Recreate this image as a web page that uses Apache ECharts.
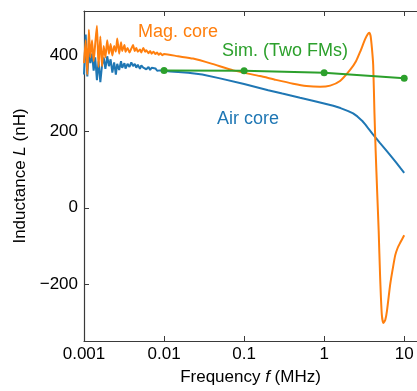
<!DOCTYPE html>
<html>
<head>
<meta charset="utf-8">
<script src="https://cdn.jsdelivr.net/npm/echarts@6/dist/echarts.min.js"></script>
<style>
  html, body { margin: 0; padding: 0; background: #fff; }
  #chart { width: 417px; height: 391px; }
</style>
</head>
<body>
<div id="chart"></div>
<script>
// frequency in MHz, inductance in nH
const airFreq = [
  0.001, 0.00105, 0.0011, 0.00115, 0.0012, 0.00126, 0.00132, 0.00138, 0.00145, 0.00152,
  0.0016, 0.00168, 0.00176, 0.00185, 0.00195, 0.00205, 0.00215, 0.00226, 0.00238, 0.0025,
  0.0026, 0.00275, 0.0029, 0.003, 0.0032, 0.0033, 0.0035, 0.0037, 0.0039, 0.0041,
  0.0043, 0.0045, 0.0047, 0.005, 0.0052, 0.0055, 0.0058, 0.006, 0.0064, 0.0067,
  0.007, 0.0074, 0.0078, 0.0082, 0.0086, 0.009, 0.0095, 0.01,
  0.012, 0.015, 0.02, 0.03, 0.05, 0.1, 0.2, 0.3, 0.5, 0.7, 1, 1.3, 1.6, 2, 2.3, 2.6,
  3, 3.3, 3.6, 4, 5, 6, 7, 8, 9, 10
];
const airL = [
  350, 455, 345, 420, 380, 405, 360, 395, 335, 385,
  330, 375, 395, 365, 398, 372, 390, 355, 382, 350,
  378, 362, 385, 368, 380, 366, 378, 370, 382, 372,
  378, 368, 376, 365, 374, 368, 372, 364, 370, 362,
  368, 363, 366, 360, 364, 361, 363, 360,
  358, 357, 355, 350, 340, 325, 309, 300, 289, 282, 274, 268, 262, 254, 248, 240,
  228, 218, 207, 195, 170, 150, 133, 118, 104, 92
];

const magFreq = [
  0.001, 0.00105, 0.0011, 0.00115, 0.0012, 0.00126, 0.00132, 0.00138, 0.00145, 0.00152,
  0.0016, 0.00168, 0.00176, 0.00185, 0.00195, 0.00205, 0.00215, 0.00226, 0.00238, 0.0025,
  0.0026, 0.00275, 0.0029, 0.003, 0.0032, 0.0033, 0.0035, 0.0037, 0.0039, 0.0041,
  0.0043, 0.0045, 0.0047, 0.005, 0.0052, 0.0055, 0.0058, 0.006, 0.0064, 0.0067,
  0.007, 0.0074, 0.0078, 0.0082, 0.0086, 0.009, 0.0095, 0.01,
  0.015, 0.023, 0.04, 0.073, 0.158, 0.25, 0.41, 0.6, 0.89, 1.19, 1.58, 2.11, 2.5,
  2.82, 3.25, 3.5, 3.65, 3.8, 3.95, 4.1, 4.25, 4.4, 4.6, 4.8, 5.0, 5.25, 5.5,
  5.8, 6.1, 6.68, 7.2, 7.72, 8.3, 8.91, 10
];
const magL = [
  380, 440, 350, 468, 395, 440, 385, 430, 478, 370,
  450, 372, 425, 395, 440, 405, 430, 400, 425, 410,
  445, 405, 435, 412, 428, 410, 420, 408, 418, 428,
  412, 420, 410, 416, 408, 420, 410, 414, 406, 412,
  405, 410, 404, 408, 402, 406, 401, 404,
  398, 392, 378, 361, 346, 336, 326, 320, 318, 321, 333, 362, 385,
  410, 443, 456, 460, 452, 420, 375, 250, 150, 40, -60, -180, -280, -303,
  -295, -270, -202, -160, -125, -105, -92, -72
];

const simFreq = [0.01, 0.1, 1, 10];
const simL = [361, 360, 355, 340];

const xTicks = [0.001, 0.01, 0.1, 1, 10];
const xTickLabels = ['0.001', '0.01', '0.1', '1', '10'];
const yTicks = [-200, 0, 200, 400];

const toPoints = (freq, vals) => freq.map((f, i) => [Math.log10(f), vals[i]]);
const xTickPos = xTicks.map(Math.log10);

const chart = echarts.init(document.getElementById('chart'));

const axisColor = '#3a3a3a';
const font = '"Liberation Sans", Arial, Helvetica, sans-serif';

const option = {
  animation: false,
  grid: { left: 84, right: 0, top: 11, bottom: 40 },
  xAxis: [
    {
      type: 'value',
      position: 'bottom',
      min: -3,
      max: 1.16,
      splitLine: { show: false },
      axisLine: { onZero: false, lineStyle: { color: axisColor, width: 1.2 } },
      axisTick: { inside: true, length: 5, customValues: xTickPos, lineStyle: { color: axisColor } },
      axisLabel: {
        customValues: xTickPos,
        color: '#000',
        fontSize: 17,
        fontFamily: font,
        margin: 5,
        formatter: (v) => xTickLabels[Math.round(v) + 3]
      },
      name: 'Frequency {i|f} (MHz)',
      nameLocation: 'middle',
      nameGap: 28,
      nameTextStyle: {
        color: '#000',
        fontSize: 17,
        fontFamily: font,
        rich: { i: { fontStyle: 'italic', fontSize: 17, fontFamily: font, color: '#000' } }
      }
    },
    {
      type: 'value',
      position: 'top',
      min: -3,
      max: 1.16,
      splitLine: { show: false },
      axisLine: { onZero: false, lineStyle: { color: axisColor, width: 1.2 } },
      axisTick: { inside: true, length: 5, customValues: xTickPos, lineStyle: { color: axisColor } },
      axisLabel: { show: false }
    }
  ],
  yAxis: {
    type: 'value',
    min: -350,
    max: 517,
    splitLine: { show: false },
    axisLine: { show: true, onZero: false, lineStyle: { color: axisColor, width: 1.2 } },
    axisTick: { show: true, inside: true, length: 5, customValues: yTicks, lineStyle: { color: axisColor } },
    axisLabel: {
      customValues: yTicks,
      color: '#000',
      fontSize: 17,
      fontFamily: font,
      margin: 6,
      formatter: (v) => (v < 0 ? '\u2212' + Math.abs(v) : String(v))
    },
    name: 'Inductance {i|L} (nH)',
    nameLocation: 'middle',
    nameGap: 47,
    nameTextStyle: {
      color: '#000',
      fontSize: 17,
      fontFamily: font,
      rich: { i: { fontStyle: 'italic', fontSize: 17, fontFamily: font, color: '#000' } }
    }
  },
  series: [
    {
      name: 'Air core',
      type: 'line',
      data: toPoints(airFreq, airL),
      showSymbol: false,
      lineStyle: { color: '#1f77b4', width: 2 },
      itemStyle: { color: '#1f77b4' }
    },
    {
      name: 'Mag. core',
      type: 'line',
      data: toPoints(magFreq, magL),
      showSymbol: false,
      smooth: 0.2,
      lineStyle: { color: '#ff7f0e', width: 2 },
      itemStyle: { color: '#ff7f0e' }
    },
    {
      name: 'Sim. (Two FMs)',
      type: 'line',
      data: toPoints(simFreq, simL),
      symbol: 'circle',
      symbolSize: 7,
      lineStyle: { color: '#2ca02c', width: 2 },
      itemStyle: { color: '#2ca02c' }
    }
  ],
  graphic: [
    { type: 'text', left: 138, top: 23, style: { text: 'Mag. core', fill: '#ff7f0e', font: '18px ' + font } },
    { type: 'text', left: 222, top: 42, style: { text: 'Sim. (Two FMs)', fill: '#2ca02c', font: '18px ' + font } },
    { type: 'text', left: 217, top: 110, style: { text: 'Air core', fill: '#1f77b4', font: '18px ' + font } }
  ]
};

chart.setOption(option);
</script>
</body>
</html>
